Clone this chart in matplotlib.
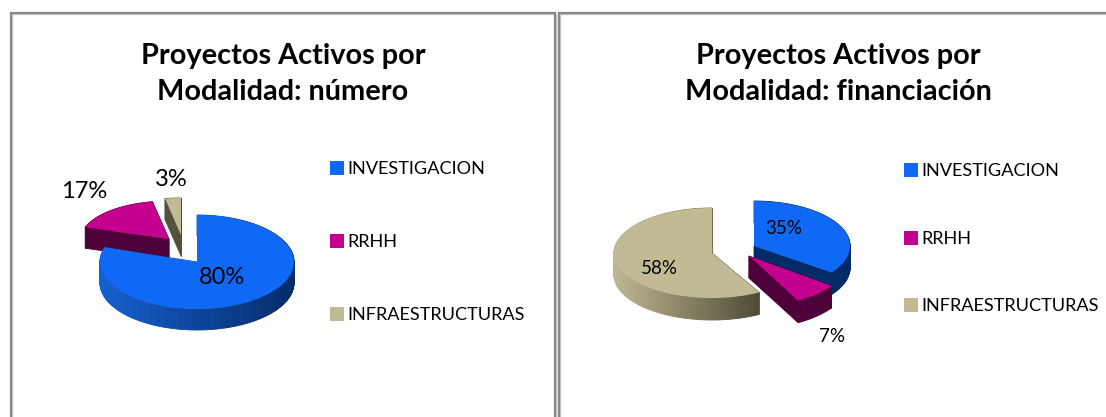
import matplotlib
matplotlib.use('Agg')
import matplotlib.pyplot as plt
from matplotlib.patches import Polygon
from matplotlib.transforms import Affine2D
import numpy as np

plt.rcParams['font.family'] = ['Lato', 'DejaVu Sans']

categories = ['INVESTIGACION', 'RRHH', 'INFRAESTRUCTURAS']
numero = [80, 17, 3]
financiacion = [35, 7, 58]
titles = ['Proyectos Activos por\nModalidad: número', 'Proyectos Activos por\nModalidad: financiación']

top_colors = ['#0F69F5', '#C6008E', '#C2BA94']
# side wall: colour at left end, colour at right end
side_left = [('#1560D0', '#052A68'), ('#4E0039', '#4E0039'), ('#56513C', '#56513C')]
side_right = [('#052A68', '#052A68'), ('#4E0039', '#4E0039'), ('#C0B892', '#4F4A35')]

fig = plt.figure(figsize=(11.06, 4.17), dpi=100)
ax = fig.add_axes([0, 0, 1, 1])


def lerp(c1, c2, t):
    a = np.array(matplotlib.colors.to_rgb(c1))
    b = np.array(matplotlib.colors.to_rgb(c2))
    return a + (b - a) * t


def draw_pie(values, places, sides, depth, order):
    # every slice gets its own place (cx, cy, rx, ry) so it can sit exploded
    wedges, _ = ax.pie(values, startangle=90, counterclock=False, colors=top_colors,
                       wedgeprops={'linewidth': 0})
    for i in order:
        w = wedges[i]
        cx, cy, rx, ry = places[i]
        tr = Affine2D().scale(rx, -ry).translate(cx, cy)
        # flatten at 20x so the rim comes out as many short segments
        fine = tr + Affine2D().scale(20)
        pts = w.get_path().transformed(fine).to_polygons()[0] / 20
        xmin, xmax = pts[:, 0].min(), pts[:, 0].max()
        quads = []
        for p, q in zip(pts[:-1], pts[1:]):
            t = ((p[0] + q[0]) / 2 - xmin) / (xmax - xmin)
            quads.append((min(p[1], q[1]), p, q, t))
        quads.sort(key=lambda s: s[0])
        for _, p, q, t in quads:
            col = lerp(sides[i][0], sides[i][1], t)
            ax.add_patch(Polygon([p, q, q + [0, depth], p + [0, depth]], closed=True,
                                 facecolor=col, edgecolor=col, linewidth=0.6))
        # put the top face after its walls
        w.remove()
        ax.add_patch(w)
        w.set_transform(tr + ax.transData)


draw_pie(numero,
         [(197, 262, 97, 47), (169, 239, 88, 38), (181, 235, 85, 37)],
         side_left, 21, [2, 1, 0])
draw_pie(financiacion,
         [(754, 246, 96, 45), (749, 256, 102, 51), (712, 253, 98, 45)],
         side_right, 22, [2, 0, 1])

# panel frames
for xs, ys in [([11, 11, 555, 555], [417, 13, 13, 417]), ([559, 559, 1106], [417, 13, 13])]:
    ax.plot(np.array(xs) + 1, np.array(ys) + 1, color='#C8C8C8', lw=1, solid_joinstyle='miter')
    ax.plot(xs, ys, color='#888888', lw=1.6, solid_joinstyle='miter', solid_capstyle='butt')

for cx, title in zip([283, 838], titles):
    ax.text(cx, 74, title, ha='center', va='center', fontsize=20.8, fontweight='bold',
            color='black', linespacing=1.52)

# pie labels
for (x, y), v in zip([(222, 278), (84, 191), (171, 179)], numero):
    ax.text(x, y, f'{v}%', ha='center', va='center', fontsize=17, color='black')
for (x, y), v in zip([(784, 228), (832, 336), (659, 268)], financiacion):
    ax.text(x, y, f'{v}%', ha='center', va='center', fontsize=13.5, color='black')

# legends
for x, ys in [(331, [168, 241, 314]), (905, [170, 238, 305])]:
    for y, name, col in zip(ys, categories, top_colors):
        ax.scatter([x + 6], [y], marker='s', s=100, color=col, linewidths=0)
        ax.text(x + 16.5, y + 1, name, ha='left', va='center', fontsize=13.1, color='black')

ax.set_aspect('auto')
ax.set_xlim(0, 1106)
ax.set_ylim(417, 0)
ax.axis('off')
fig.savefig('out.png', dpi=100, facecolor='white')
